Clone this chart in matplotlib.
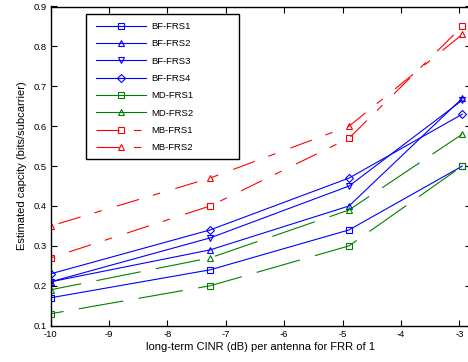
import matplotlib
matplotlib.use("Agg")
import matplotlib.pyplot as plt
from matplotlib.patches import Rectangle

plt.rcParams['font.family'] = ['Liberation Sans', 'DejaVu Sans']
plt.rcParams['lines.scale_dashes'] = False

# data
x_vals = [-10, -7.27, -4.89, -2.95]
bf_frs1 = [0.17, 0.24, 0.34, 0.50]
bf_frs2 = [0.21, 0.29, 0.40, 0.67]
bf_frs3 = [0.21, 0.32, 0.45, 0.665]
bf_frs4 = [0.23, 0.34, 0.47, 0.63]
md_frs1 = [0.13, 0.20, 0.30, 0.50]
md_frs2 = [0.19, 0.27, 0.39, 0.58]
mb_frs1 = [0.27, 0.40, 0.57, 0.85]
mb_frs2 = [0.35, 0.47, 0.60, 0.83]
labels = ['BF-FRS1', 'BF-FRS2', 'BF-FRS3', 'BF-FRS4',
          'MD-FRS1', 'MD-FRS2', 'MB-FRS1', 'MB-FRS2']
x_ticks = [-10, -9, -8, -7, -6, -5, -4, -3]
y_ticks = [0.1, 0.2, 0.3, 0.4, 0.5, 0.6, 0.7, 0.8, 0.9]

W, H = 468, 362
fig = plt.figure(figsize=(W / 100, H / 100), dpi=100)
ax_left, ax_right = 50.7, 471.0
ax_top, ax_bot = 6.5, 325.7
ax = fig.add_axes([ax_left / W, 1 - ax_bot / H, (ax_right - ax_left) / W, (ax_bot - ax_top) / H])

blue = (0, 0, 1)
green = (0, 0.5, 0)
red = (1, 0, 0)
md_pat = (32.4, 11.2)
mb_pat = (16.6, 10.4, 5.4, 11.5)

series = [
    (bf_frs1, blue, 's', '-', 5),
    (bf_frs2, blue, '^', '-', 5),
    (bf_frs3, blue, 'v', '-', 5),
    (bf_frs4, blue, 'D', '-', 3.6),
    (md_frs1, green, 's', (23, md_pat), 5),
    (md_frs2, green, '^', (10, md_pat), 5),
    (mb_frs1, red, 's', (30, mb_pat), 5),
    (mb_frs2, red, '^', (38, mb_pat), 5),
]
handles = []
for (vals, col, mk, ls, ms), lab in zip(series, labels):
    h, = ax.plot(x_vals, vals, color=col, marker=mk, linestyle=ls, lw=0.8,
                 markersize=ms, markerfacecolor='none', markeredgecolor=col,
                 markeredgewidth=0.8, label=lab)
    handles.append(h)

ax.set_xlim(-10, -2.8)
ax.set_ylim(0.1, 0.9)
ax.set_xticks(x_ticks)
ax.set_yticks(y_ticks)
ax.set_xticklabels([str(t) for t in x_ticks])
ax.set_yticklabels(['%.1f' % t for t in y_ticks])
ax.tick_params(direction='in', top=True, right=True, length=4, width=0.8,
               labelsize=6.8, pad=3, colors='black')
for sp in ax.spines.values():
    sp.set_linewidth(1.0)
    sp.set_color('black')

ax.set_xlabel('long-term CINR (dB) per antenna for FRR of 1', fontsize=8)
ax.set_ylabel('Estimated capcity (bits/subcarrier)', fontsize=8)
ax.xaxis.set_label_coords(0.5, (ax_bot - 342.0) / (ax_bot - ax_top))
ax.yaxis.set_label_coords((27.5 - ax_left) / (ax_right - ax_left), 0.5)

# legend
fig.patches.append(Rectangle((86 / W, 1 - 159 / H), 153 / W, 145 / H,
                             transform=fig.transFigure, fill=True,
                             facecolor='white', edgecolor='black', lw=1.0,
                             zorder=5))
leg = fig.legend(handles=handles, labels=labels, loc='upper left',
                 bbox_to_anchor=(96 / W, 1 - 22.0 / H), frameon=False,
                 fontsize=6.8, borderpad=0, borderaxespad=0, handlelength=5.3,
                 handletextpad=0.6, labelspacing=0.88, numpoints=1)
leg.set_zorder(6)
leg_lines = leg.get_lines()
for i, ln in enumerate(leg_lines):
    if labels[i].startswith('MD'):
        ln.set_linestyle('-')
    elif labels[i].startswith('MB'):
        ln.set_linestyle((0, mb_pat))

fig.savefig('out.png', dpi=100)
